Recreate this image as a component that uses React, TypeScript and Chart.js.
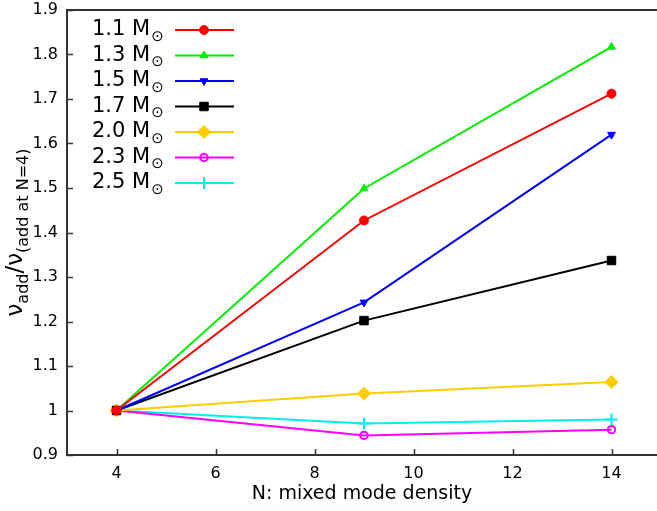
import React, { useEffect, useRef } from "react";
import { Chart, registerables, PointElement } from "chart.js";

Chart.register(...registerables);

const xValues = [4, 9, 14];
const massLabels = ["1.1", "1.3", "1.5", "1.7", "2.0", "2.3", "2.5"];
const ratio11 = [1, 1.427, 1.712];
const ratio13 = [1, 1.499, 1.817];
const ratio15 = [1, 1.243, 1.62];
const ratio17 = [1, 1.202, 1.337];
const ratio20 = [1, 1.038, 1.064];
const ratio23 = [1, 0.944, 0.957];
const ratio25 = [1, 0.971, 0.98];
const xTicks = [4, 6, 8, 10, 12, 14];
const yTicks = [0.9, 1.0, 1.1, 1.2, 1.3, 1.4, 1.5, 1.6, 1.7, 1.8, 1.9];

const series = [ratio11, ratio13, ratio15, ratio17, ratio20, ratio23, ratio25];
const colors = ["#ff0000", "#00ee00", "#0000ff", "#000000", "#ffcc00", "#ff00ff", "#00eeee"];
const styles: any[] = [
  { pointStyle: "circle", pointRadius: 4.5, pointRotation: 0, fill: true, bw: 1 },
  { pointStyle: "triangle", pointRadius: 4.5, pointRotation: 0, fill: true, bw: 1 },
  { pointStyle: "triangle", pointRadius: 4.5, pointRotation: 180, fill: true, bw: 1 },
  { pointStyle: "rect", pointRadius: 6, pointRotation: 0, fill: true, bw: 1 },
  { pointStyle: "rectRot", pointRadius: 6.5, pointRotation: 0, fill: true, bw: 1 },
  { pointStyle: "circle", pointRadius: 3.7, pointRotation: 0, fill: false, bw: 2 },
  { pointStyle: "cross", pointRadius: 6, pointRotation: 0, fill: true, bw: 2 },
];

const FONT = "'DejaVu Sans', sans-serif";

const decorPlugin = {
  id: "decor",
  beforeDatasetsDraw(chart: any) {
    const { ctx, chartArea } = chart;
    const { left, right, top, bottom } = chartArea;
    const xs = chart.scales.x;
    const ys = chart.scales.y;
    ctx.save();
    ctx.strokeStyle = "#333333";
    ctx.lineWidth = 2;
    ctx.beginPath();
    ctx.moveTo(right + 2, top);
    ctx.lineTo(left, top);
    ctx.lineTo(left, bottom);
    ctx.lineTo(right + 2, bottom);
    ctx.stroke();
    ctx.lineWidth = 1.5;
    ctx.beginPath();
    for (const v of yTicks) {
      const py = Math.round(ys.getPixelForValue(v)) + 0.5;
      ctx.moveTo(left, py);
      ctx.lineTo(left + 6, py);
    }
    for (const v of xTicks) {
      const px = Math.round(xs.getPixelForValue(v)) + 0.5;
      ctx.moveTo(px, bottom);
      ctx.lineTo(px, bottom - 6);
    }
    ctx.stroke();
    ctx.restore();
  },
  afterDraw(chart: any) {
    const { ctx, chartArea } = chart;
    ctx.save();
    ctx.fillStyle = "#000";
    // x title
    ctx.font = `19px ${FONT}`;
    ctx.textAlign = "center";
    ctx.textBaseline = "middle";
    ctx.fillText("N: mixed mode density", (chartArea.left + 657) / 2, 494);

    // y title with subscripts
    const bigF = `23px ${FONT}`;
    const smallF = `16px ${FONT}`;
    const parts: [string, boolean][] = [
      ["ν", false],
      ["add", true],
      ["/ν", false],
      ["(add at N=4)", true],
    ];
    let total = 0;
    for (const [t, sub] of parts) {
      ctx.font = sub ? smallF : bigF;
      total += ctx.measureText(t).width;
    }
    ctx.translate(21, (chartArea.top + chartArea.bottom) / 2);
    ctx.rotate(-Math.PI / 2);
    ctx.textAlign = "left";
    ctx.textBaseline = "alphabetic";
    let cx = -total / 2;
    for (const [t, sub] of parts) {
      ctx.font = sub ? smallF : bigF;
      ctx.fillText(t, cx, sub ? 7 : 1);
      cx += ctx.measureText(t).width;
    }
    ctx.restore();

    // legend
    ctx.save();
    chart.data.datasets.forEach((ds: any, i: number) => {
      const y = 30 + i * 25.5;
      ctx.fillStyle = "#000";
      ctx.textAlign = "left";
      ctx.textBaseline = "middle";
      ctx.font = `21px ${FONT}`;
      const main = `${massLabels[i]} M`;
      ctx.fillText(main, 92, y);
      const w = ctx.measureText(main).width;
      ctx.font = `15px ${FONT}`;
      ctx.fillText("⊙", 92 + w + 1, y + 7);
      ctx.strokeStyle = ds.borderColor;
      ctx.lineWidth = 2;
      ctx.beginPath();
      ctx.moveTo(175, y);
      ctx.lineTo(234, y);
      ctx.stroke();
      const meta = chart.getDatasetMeta(i);
      const src = meta.data[0];
      if (src && src.options) {
        const el: any = new (PointElement as any)({ x: 204, y });
        el.options = src.options;
        el.draw(ctx);
      }
    });
    ctx.restore();
  },
};

export default function App() {
  const ref = useRef<HTMLCanvasElement>(null);
  useEffect(() => {
    if (!ref.current) return;
    Chart.defaults.font.family = FONT;
    const datasets = series.map((vals, i) => ({
      label: `${massLabels[i]} M⊙`,
      data: xValues.map((x, j) => ({ x, y: vals[j] })),
      borderColor: colors[i],
      backgroundColor: styles[i].fill ? colors[i] : "rgba(0,0,0,0)",
      borderWidth: 2,
      pointStyle: styles[i].pointStyle,
      pointRadius: styles[i].pointRadius,
      pointRotation: styles[i].pointRotation,
      pointBorderWidth: styles[i].bw,
      pointBackgroundColor: styles[i].fill ? colors[i] : "rgba(0,0,0,0)",
      pointBorderColor: colors[i],
      tension: 0,
      fill: false,
    }));
    const chart = new Chart(ref.current, {
      type: "line",
      data: { datasets },
      options: {
        responsive: false,
        animation: false,
        devicePixelRatio: 1,
        layout: { padding: { top: 10, left: 0, right: 0, bottom: 0 } },
        plugins: { legend: { display: false }, tooltip: { enabled: false } },
        scales: {
          x: {
            type: "linear",
            min: 3,
            max: 15,
            grid: { display: false, drawTicks: false },
            border: { display: false },
            afterBuildTicks: (s: any) => {
              s.ticks = xTicks.map((v) => ({ value: v }));
            },
            afterFit: (s: any) => {
              s.height = 56;
              s.paddingRight = 0;
              s.paddingLeft = 0;
            },
            ticks: {
              padding: 9,
              color: "#000",
              font: { size: 16, family: FONT },
              maxRotation: 0,
              autoSkip: false,
              callback: (v: any) => String(v),
            },
          },
          y: {
            type: "linear",
            min: 0.9,
            max: 1.9,
            grid: { display: false, drawTicks: false },
            border: { display: false },
            afterBuildTicks: (s: any) => {
              s.ticks = yTicks.map((v) => ({ value: v }));
            },
            afterFit: (s: any) => {
              s.width = 67;
              s.paddingTop = 0;
              s.paddingBottom = 0;
            },
            ticks: {
              padding: 9,
              color: "#000",
              font: { size: 16, family: FONT },
              autoSkip: false,
              callback: (v: any) => String(Number(Number(v).toFixed(1))),
            },
          },
        },
      },
      plugins: [decorPlugin],
    });
    return () => chart.destroy();
  }, []);
  return (
    <div style={{ position: "fixed", left: 0, top: 0, width: 657, height: 511, overflow: "hidden", background: "#fff" }}>
      <canvas ref={ref} width={669} height={511} style={{ display: "block", width: 669, height: 511 }} />
    </div>
  );
}
